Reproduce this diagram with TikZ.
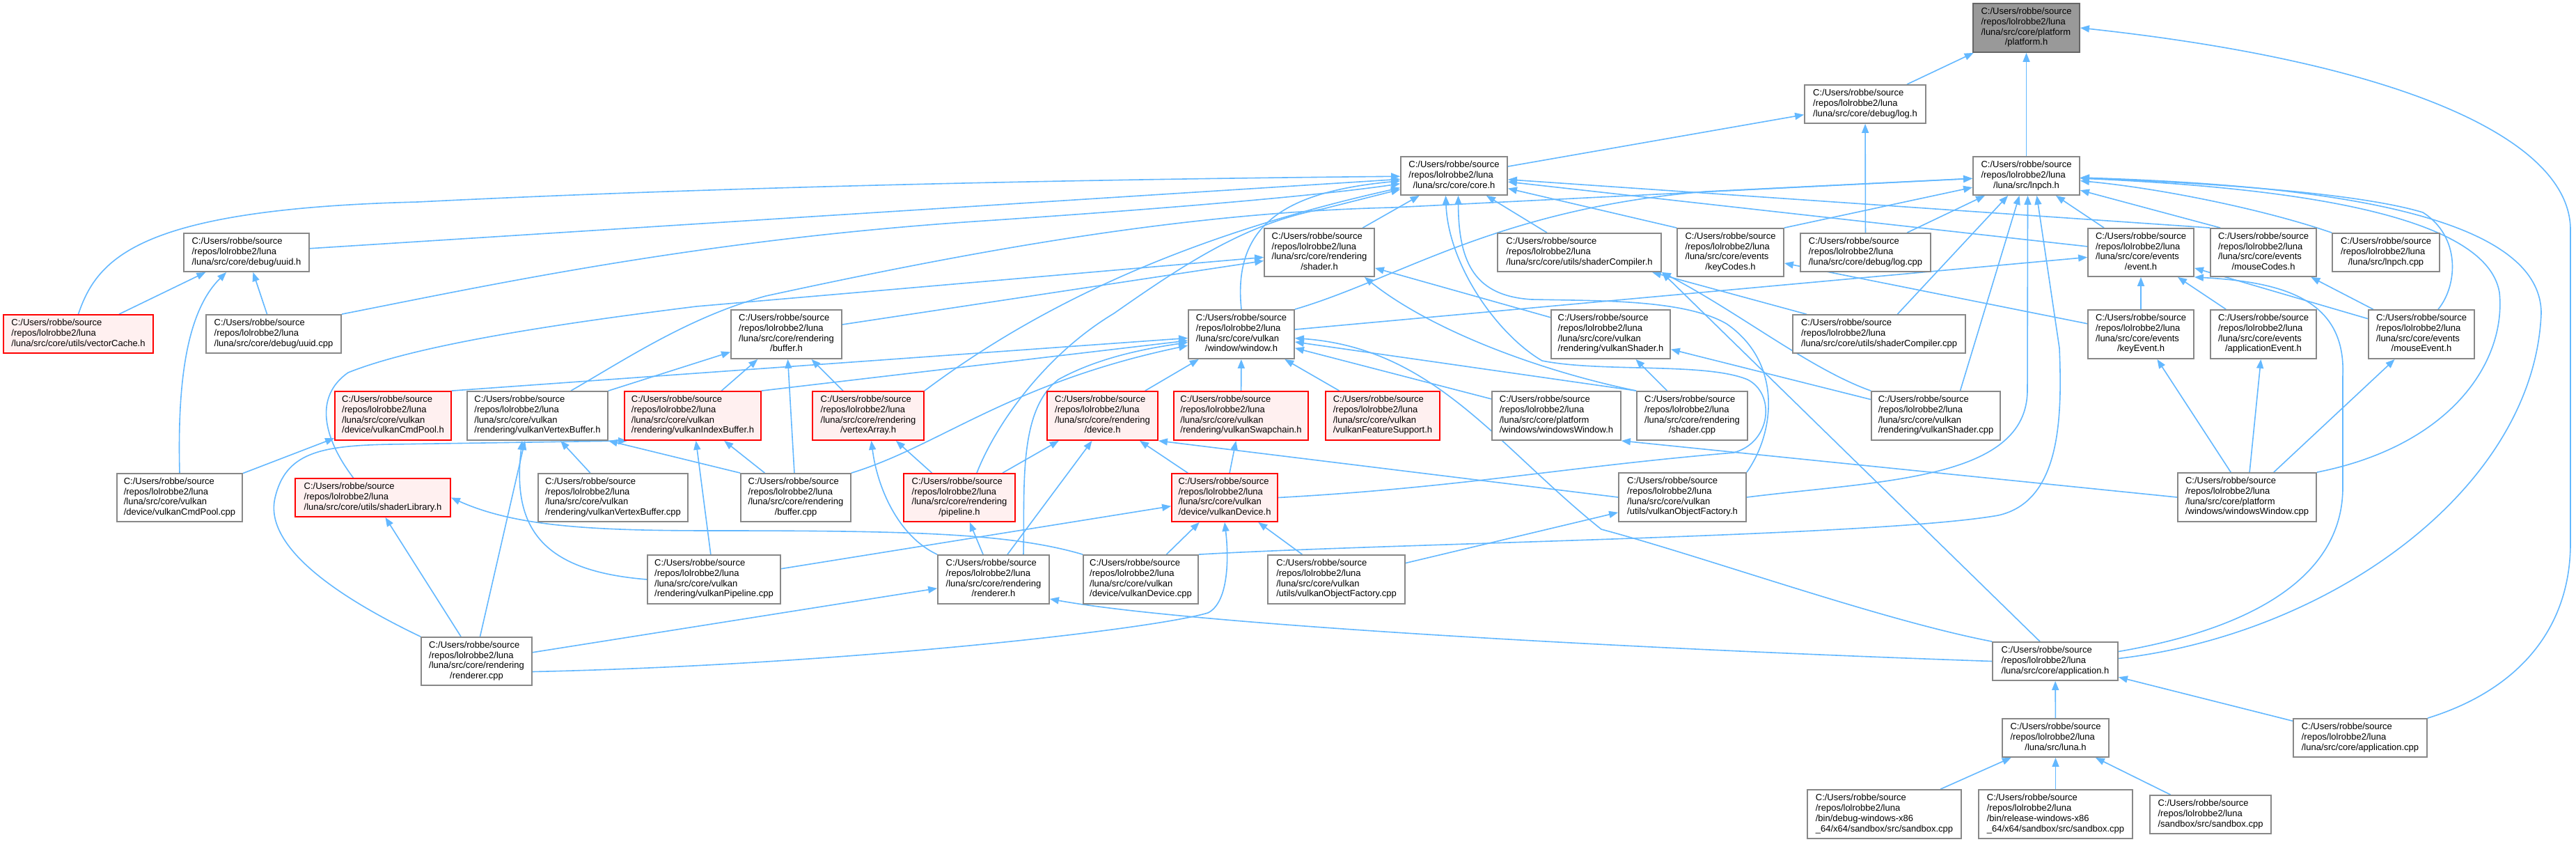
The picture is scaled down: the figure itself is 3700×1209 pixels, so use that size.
\documentclass[tikz,border=0pt]{standalone}
\usepackage{fontspec}
\setmainfont{Liberation Sans}
\usetikzlibrary{arrows.meta}
\pgfdeclarelayer{bg}
\pgfsetlayers{bg,main}
\definecolor{edgec}{HTML}{63B8FF}
\definecolor{nbord}{HTML}{888888}
\definecolor{rfill}{HTML}{FFF0F0}
\definecolor{rbord}{HTML}{FF0000}
\definecolor{rootf}{HTML}{999999}
\definecolor{rootb}{HTML}{666666}
\newcommand\hdr{C:/Users/robbe/source\\/repos/lolrobbe2/luna}
\newcommand\nlbl[2]{\begin{tabular}{@{}l@{}}#1\\\multicolumn{1}{@{}c@{}}{#2}\end{tabular}}
\newcommand\bx[7]{\node[#6, minimum width={(#3-#2)*1pt}, minimum height={(#5-#4)*1pt}] (#1) at ({(#2+#3)/2},{(#4+#5)/2}) {#7};}
\tikzset{
 nd/.style={draw=nbord, fill=white, line width=1.8pt, inner sep=0pt, text=black, font=\fontsize{13pt}{14.7pt}\selectfont},
 rd/.style={nd, draw=rbord, fill=rfill},
 gd/.style={nd, draw=rootb, fill=rootf},
 edg/.style={draw=edgec, line width=1.6pt, -{Triangle[length=13pt,width=10pt]}},
}
\begin{document}
\begin{tikzpicture}[x=1pt,y=-1pt]
\useasboundingbox (0,0) rectangle (3700,1209);
\bx{P}{2834}{2987}{5}{75}{gd}{\nlbl{\hdr\\/luna/src/core/platform}{/platform.h}}
\bx{LOGH}{2592}{2766}{122}{177}{nd}{\nlbl{\hdr}{/luna/src/core/debug/log.h}}
\bx{CORE}{2012}{2165}{225}{280}{nd}{\nlbl{\hdr}{/luna/src/core/core.h}}
\bx{LNPCH}{2834}{2987}{225}{280}{nd}{\nlbl{\hdr}{/luna/src/lnpch.h}}
\bx{UUIDH}{264}{444}{335}{390}{nd}{\nlbl{\hdr}{/luna/src/core/debug/uuid.h}}
\bx{SHADERH}{1816}{1974}{328}{397}{nd}{\nlbl{\hdr\\/luna/src/core/rendering}{/shader.h}}
\bx{SCH}{2151}{2386}{335}{390}{nd}{\nlbl{\hdr}{/luna/src/core/utils/shaderCompiler.h}}
\bx{KEYCODES}{2409}{2562}{328}{397}{nd}{\nlbl{\hdr\\/luna/src/core/events}{/keyCodes.h}}
\bx{LOGCPP}{2586}{2773}{335}{390}{nd}{\nlbl{\hdr}{/luna/src/core/debug/log.cpp}}
\bx{EVENT}{2999}{3151}{328}{397}{nd}{\nlbl{\hdr\\/luna/src/core/events}{/event.h}}
\bx{MOUSECODES}{3175}{3327}{328}{397}{nd}{\nlbl{\hdr\\/luna/src/core/events}{/mouseCodes.h}}
\bx{LNPCHCPP}{3350}{3504}{335}{390}{nd}{\nlbl{\hdr}{/luna/src/lnpch.cpp}}
\bx{VCACHE}{5}{220}{452}{507}{rd}{\nlbl{\hdr}{/luna/src/core/utils/vectorCache.h}}
\bx{UUIDCPP}{296}{490}{452}{507}{nd}{\nlbl{\hdr}{/luna/src/core/debug/uuid.cpp}}
\bx{BUFFERH}{1050}{1209}{445}{515}{nd}{\nlbl{\hdr\\/luna/src/core/rendering}{/buffer.h}}
\bx{WINDOWH}{1707}{1859}{445}{515}{nd}{\nlbl{\hdr\\/luna/src/core/vulkan}{/window/window.h}}
\bx{VKSHADERH}{2228}{2399}{445}{515}{nd}{\nlbl{\hdr\\/luna/src/core/vulkan}{/rendering/vulkanShader.h}}
\bx{SCCPP}{2575}{2823}{452}{507}{nd}{\nlbl{\hdr}{/luna/src/core/utils/shaderCompiler.cpp}}
\bx{KEYEVENT}{2999}{3151}{445}{515}{nd}{\nlbl{\hdr\\/luna/src/core/events}{/keyEvent.h}}
\bx{APPEVENT}{3175}{3327}{445}{515}{nd}{\nlbl{\hdr\\/luna/src/core/events}{/applicationEvent.h}}
\bx{MOUSEEVENT}{3402}{3554}{445}{515}{nd}{\nlbl{\hdr\\/luna/src/core/events}{/mouseEvent.h}}
\bx{VKCMDPOOLH}{481}{648}{562}{632}{rd}{\nlbl{\hdr\\/luna/src/core/vulkan}{/device/vulkanCmdPool.h}}
\bx{VKVBH}{671}{873}{562}{632}{nd}{\nlbl{\hdr\\/luna/src/core/vulkan}{/rendering/vulkanVertexBuffer.h}}
\bx{VKIBH}{897}{1093}{562}{632}{rd}{\nlbl{\hdr\\/luna/src/core/vulkan}{/rendering/vulkanIndexBuffer.h}}
\bx{VAH}{1167}{1327}{562}{632}{rd}{\nlbl{\hdr\\/luna/src/core/rendering}{/vertexArray.h}}
\bx{DEVICEH}{1504}{1663}{562}{632}{rd}{\nlbl{\hdr\\/luna/src/core/rendering}{/device.h}}
\bx{SWAPH}{1686}{1879}{562}{632}{rd}{\nlbl{\hdr\\/luna/src/core/vulkan}{/rendering/vulkanSwapchain.h}}
\bx{FEATH}{1904}{2068}{562}{632}{rd}{\nlbl{\hdr\\/luna/src/core/vulkan}{/vulkanFeatureSupport.h}}
\bx{WINWINH}{2143}{2328}{562}{632}{nd}{\nlbl{\hdr\\/luna/src/core/platform}{/windows/windowsWindow.h}}
\bx{SHADERCPP}{2351}{2510}{562}{632}{nd}{\nlbl{\hdr\\/luna/src/core/rendering}{/shader.cpp}}
\bx{VKSHADERCPP}{2688}{2873}{562}{632}{nd}{\nlbl{\hdr\\/luna/src/core/vulkan}{/rendering/vulkanShader.cpp}}
\bx{VKCMDPOOLCPP}{168}{348}{680}{749}{nd}{\nlbl{\hdr\\/luna/src/core/vulkan}{/device/vulkanCmdPool.cpp}}
\bx{SHADERLIBH}{424}{647}{687}{742}{rd}{\nlbl{\hdr}{/luna/src/core/utils/shaderLibrary.h}}
\bx{VKVBCPP}{773}{988}{680}{749}{nd}{\nlbl{\hdr\\/luna/src/core/vulkan}{/rendering/vulkanVertexBuffer.cpp}}
\bx{BUFFERCPP}{1064}{1222}{680}{749}{nd}{\nlbl{\hdr\\/luna/src/core/rendering}{/buffer.cpp}}
\bx{PIPELINEH}{1298}{1458}{680}{749}{rd}{\nlbl{\hdr\\/luna/src/core/rendering}{/pipeline.h}}
\bx{VKDEVICEH}{1683}{1835}{680}{749}{rd}{\nlbl{\hdr\\/luna/src/core/vulkan}{/device/vulkanDevice.h}}
\bx{VKOFH}{2325}{2508}{679}{749}{nd}{\nlbl{\hdr\\/luna/src/core/vulkan}{/utils/vulkanObjectFactory.h}}
\bx{WINWINCPP}{3128}{3327}{679}{749}{nd}{\nlbl{\hdr\\/luna/src/core/platform}{/windows/windowsWindow.cpp}}
\bx{VKPIPECPP}{930}{1121}{797}{867}{nd}{\nlbl{\hdr\\/luna/src/core/vulkan}{/rendering/vulkanPipeline.cpp}}
\bx{RENDERERH}{1347}{1507}{797}{867}{nd}{\nlbl{\hdr\\/luna/src/core/rendering}{/renderer.h}}
\bx{VKDEVICECPP}{1556}{1721}{797}{867}{nd}{\nlbl{\hdr\\/luna/src/core/vulkan}{/device/vulkanDevice.cpp}}
\bx{VKOFCPP}{1821}{2018}{797}{867}{nd}{\nlbl{\hdr\\/luna/src/core/vulkan}{/utils/vulkanObjectFactory.cpp}}
\bx{RENDERERCPP}{605}{764}{915}{984}{nd}{\nlbl{\hdr\\/luna/src/core/rendering}{/renderer.cpp}}
\bx{APPH}{2862}{3042}{922}{977}{nd}{\nlbl{\hdr}{/luna/src/core/application.h}}
\bx{LUNAH}{2876}{3029}{1032}{1087}{nd}{\nlbl{\hdr}{/luna/src/luna.h}}
\bx{APPCPP}{3294}{3486}{1032}{1087}{nd}{\nlbl{\hdr}{/luna/src/core/application.cpp}}
\bx{SBA}{2596}{2817}{1134}{1204}{nd}{\nlbl{\hdr\\/bin/debug-windows-x86}{\_64/x64/sandbox/src/sandbox.cpp}}
\bx{SBB}{2842}{3063}{1134}{1204}{nd}{\nlbl{\hdr\\/bin/release-windows-x86}{\_64/x64/sandbox/src/sandbox.cpp}}
\bx{SBC}{3088}{3262}{1142}{1197}{nd}{\nlbl{\hdr}{/sandbox/src/sandbox.cpp}}
\begin{pgfonlayer}{bg}
\fill[white] (0,0) rectangle (3700,1209);
% platform.h
\draw[edg] (LOGH) -- (P);
\draw[edg] (LNPCH) -- (P);
\draw[edg] (APPCPP.north east) .. controls (3620,990) and (3692,900) .. (3692,780) -- (3692,330) .. controls (3692,200) and (3450,90) .. (P.east);
% log.h
\draw[edg] (CORE) -- (LOGH);
\draw[edg] (LOGCPP) -- (LOGH);
\draw[edg] (LOGCPP) -- (LNPCH);
% core.h
\draw[edg] (VCACHE.north) .. controls (140,370) and (200,300) .. (600,290) .. controls (1000,270) and (1500,258) .. (CORE);
\draw[edg] (VCACHE) -- (UUIDH);
\draw[edg] (UUIDH) -- (CORE);
\draw[edg] (UUIDCPP) -- (UUIDH);
\draw[edg] (UUIDCPP.north east) .. controls (700,410) and (1000,345) .. (1400,318) .. controls (1700,298) and (1900,280) .. (CORE);
\draw[edg] (VKCMDPOOLCPP.north) .. controls (255,560) and (265,450) .. (UUIDH);
\draw[edg] (VKCMDPOOLCPP) -- (VKCMDPOOLH);
\draw[edg] (SHADERH) -- (CORE);
\draw[edg] (SCH) -- (CORE);
\draw[edg] (KEYCODES.north west) -- (CORE);
\draw[edg] (KEYCODES.north east) -- (LNPCH);
\draw[edg] (EVENT) -- (CORE);
\draw[edg] (EVENT) -- (LNPCH);
\draw[edg] (MOUSECODES.north west) -- (CORE);
\draw[edg] ([xshift=15pt]MOUSECODES.north west) -- (LNPCH);
\draw[edg] (LNPCHCPP.north west) .. controls (3250,300) and (3100,270) .. (LNPCH);
% shader compiler / shaders
\draw[edg] (SCCPP) -- (SCH);
\draw[edg] (SCCPP) -- (LNPCH);
\draw[edg] (VKSHADERCPP.north west) .. controls (2600,530) and (2500,450) .. (SCH.south east);
\draw[edg] ([xshift=35pt]VKSHADERCPP.north) -- ([xshift=-10pt]LNPCH.south);
\draw[edg] (VKSHADERCPP) -- (VKSHADERH);
\draw[edg] (VKSHADERH) -- (SHADERH);
\draw[edg] (SHADERCPP) -- (VKSHADERH);
\draw[edg] (SHADERCPP.north west) .. controls (2200,530) and (2050,470) .. ([xshift=-15pt]SHADERH.south east);
\draw[edg] (SHADERCPP.north west) -- (WINDOWH);
% events
\draw[edg] (KEYEVENT) -- (EVENT);
\draw[edg] (KEYEVENT) -- (KEYCODES);
\draw[edg] (APPEVENT) -- (EVENT);
\draw[edg] (MOUSEEVENT) -- (EVENT);
\draw[edg] (MOUSEEVENT) -- (MOUSECODES);
\draw[edg] ([xshift=24pt]MOUSEEVENT.north) .. controls (3530,410) and (3535,340) .. (3480,305) .. controls (3380,275) and (3150,262) .. (LNPCH);
\draw[edg] (WINWINCPP) -- (KEYEVENT);
\draw[edg] (WINWINCPP) -- (APPEVENT);
\draw[edg] (WINWINCPP) -- (MOUSEEVENT);
\draw[edg] (WINWINCPP.west) -- (WINWINH.south east);
\draw[edg] (WINWINCPP.north east) .. controls (3520,640) and (3600,520) .. (3590,420) .. controls (3570,300) and (3250,268) .. (LNPCH);
% window.h
\draw[edg] (WINDOWH) -- (EVENT);
\draw[edg] (WINDOWH.north) .. controls (1770,320) and (1850,275) .. (CORE);
\draw[edg] (WINDOWH.north east) .. controls (2010,400) and (2150,300) .. (2450,275) -- (LNPCH);
\draw[edg] (VKCMDPOOLH.north east) -- (WINDOWH);
\draw[edg] (VKIBH.north east) -- (WINDOWH);
\draw[edg] (WINWINH) -- (WINDOWH);
% buffers
\draw[edg] (VKIBH) -- (BUFFERH);
\draw[edg] (VKVBH.north east) -- (BUFFERH);
\draw[edg] ([xshift=48pt]VKVBH.north) .. controls (900,515) and (990,455) .. (1100,425) .. controls (1400,360) and (1700,305) .. (2000,298) -- (LNPCH);
\draw[edg] ([yshift=14pt]BUFFERH.east) -- (SHADERH);
\draw[edg] (BUFFERCPP) -- (BUFFERH);
\draw[edg] (BUFFERCPP) -- (VKIBH);
\draw[edg] (BUFFERCPP.north west) -- (VKVBH.south east);
\draw[edg] (BUFFERCPP.north east) .. controls (1350,640) and (1450,550) .. (WINDOWH);
\draw[edg] (VAH) -- (BUFFERH);
\draw[edg] (VAH.north east) .. controls (1450,470) and (1650,350) .. (CORE);
\draw[edg] (VKVBCPP) -- (VKVBH);
\draw[edg] (VKPIPECPP) -- (VKIBH);
\draw[edg] (VKPIPECPP.west) .. controls (780,820) and (735,760) .. ([xshift=-22pt]VKVBH.south);
\draw[edg] (VKPIPECPP) -- (VKDEVICEH);
% renderer.cpp
\draw[edg] (RENDERERCPP) -- (RENDERERH);
\draw[edg] ([yshift=-15pt]RENDERERCPP.east) .. controls (1200,955) and (1650,905) .. (1735,880) .. controls (1765,865) and (1765,800) .. (VKDEVICEH.south);
\draw[edg] (RENDERERCPP) -- (SHADERLIBH);
\draw[edg] ([xshift=5pt]RENDERERCPP.north) -- ([xshift=-18pt]VKVBH.south);
\draw[edg] (RENDERERCPP.north west) .. controls (470,850) and (380,780) .. (395,715) .. controls (410,650) and (460,640) .. (560,638) -- ([xshift=5pt]VKIBH.south west);
\draw[edg] ([xshift=-28pt]SHADERLIBH.north) .. controls (465,630) and (450,570) .. (500,535) .. controls (600,495) and (800,465) .. (1000,440) -- (SHADERH);
% pipeline / renderer.h
\draw[edg] (PIPELINEH) -- (DEVICEH);
\draw[edg] (PIPELINEH) -- (VAH);
\draw[edg] ([xshift=25pt]PIPELINEH.north) .. controls (1430,610) and (1500,510) .. (1600,450) .. controls (1700,380) and (1790,320) .. (1900,300) -- (CORE);
\draw[edg] (RENDERERH) -- (PIPELINEH);
\draw[edg] (RENDERERH.north west) .. controls (1290,770) and (1260,700) .. (VAH);
\draw[edg] ([xshift=20pt]RENDERERH.north) -- ([xshift=-15pt]DEVICEH.south);
\draw[edg] ([xshift=43pt]RENDERERH.north) .. controls (1472,700) and (1462,590) .. (1520,545) .. controls (1580,512) and (1650,500) .. (WINDOWH);
% devices
\draw[edg] (DEVICEH) -- (WINDOWH);
\draw[edg] (SWAPH) -- (WINDOWH);
\draw[edg] (FEATH) -- (WINDOWH);
\draw[edg] (VKDEVICEH) -- (DEVICEH);
\draw[edg] (VKDEVICEH) -- (SWAPH);
\draw[edg] (VKDEVICEH.east) .. controls (2100,700) and (2250,670) .. (2490,650) .. controls (2545,635) and (2550,565) .. (2510,545) .. controls (2450,520) and (2300,535) .. (2215,518) .. controls (2150,480) and (2080,380) .. ([xshift=-12pt]CORE.south);
\draw[edg] (VKOFH.north east) .. controls (2550,620) and (2560,520) .. (2480,465) .. controls (2420,430) and (2300,432) .. (2200,430) .. controls (2120,425) and (2095,380) .. ([xshift=6pt]CORE.south);
\draw[edg] (VKOFH.east) .. controls (2700,690) and (2912,690) .. (2912,560) -- ([xshift=2pt]LNPCH.south);
\draw[edg] (VKOFCPP) -- (VKOFH);
\draw[edg] (VKOFCPP) -- (VKDEVICEH);
\draw[edg] (VKOFH.west) -- (DEVICEH.south east);
\draw[edg] (VKDEVICECPP) -- (VKDEVICEH);
\draw[edg] (VKDEVICECPP.north west) .. controls (1450,765) and (1300,762) .. (1024,762) .. controls (850,762) and (740,756) .. (SHADERLIBH.east);
\draw[edg] (VKDEVICECPP.north east) .. controls (2000,780) and (2700,770) .. (2870,740) .. controls (2960,720) and (2962,600) .. (2958,500) -- ([xshift=15pt]LNPCH.south);
% application
\draw[edg] (SBA) -- (LUNAH);
\draw[edg] (SBB) -- (LUNAH);
\draw[edg] (SBC) -- (LUNAH);
\draw[edg] (LUNAH) -- (APPH);
\draw[edg] (APPCPP) -- (APPH);
\draw[edg] ([yshift=4pt]APPH.east) .. controls (3350,910) and (3640,700) .. (3650,450) .. controls (3650,300) and (3300,265) .. (LNPCH);
\draw[edg] ([yshift=14pt]APPH.east) .. controls (3250,900) and (3365,820) .. (3365,700) -- (3365,540) .. controls (3370,430) and (3280,405) .. (EVENT.south east);
\draw[edg] ([xshift=-22pt]APPH.north) -- (SCH.south east);
\draw[edg] (APPH.north west) .. controls (2700,890) and (2450,800) .. (2300,760) .. controls (2150,640) and (2060,500) .. (WINDOWH);
\draw[edg] (APPH.west) .. controls (2300,930) and (1700,895) .. ([yshift=-28pt]RENDERERH.east);
\end{pgfonlayer}
\end{tikzpicture}
\end{document}
